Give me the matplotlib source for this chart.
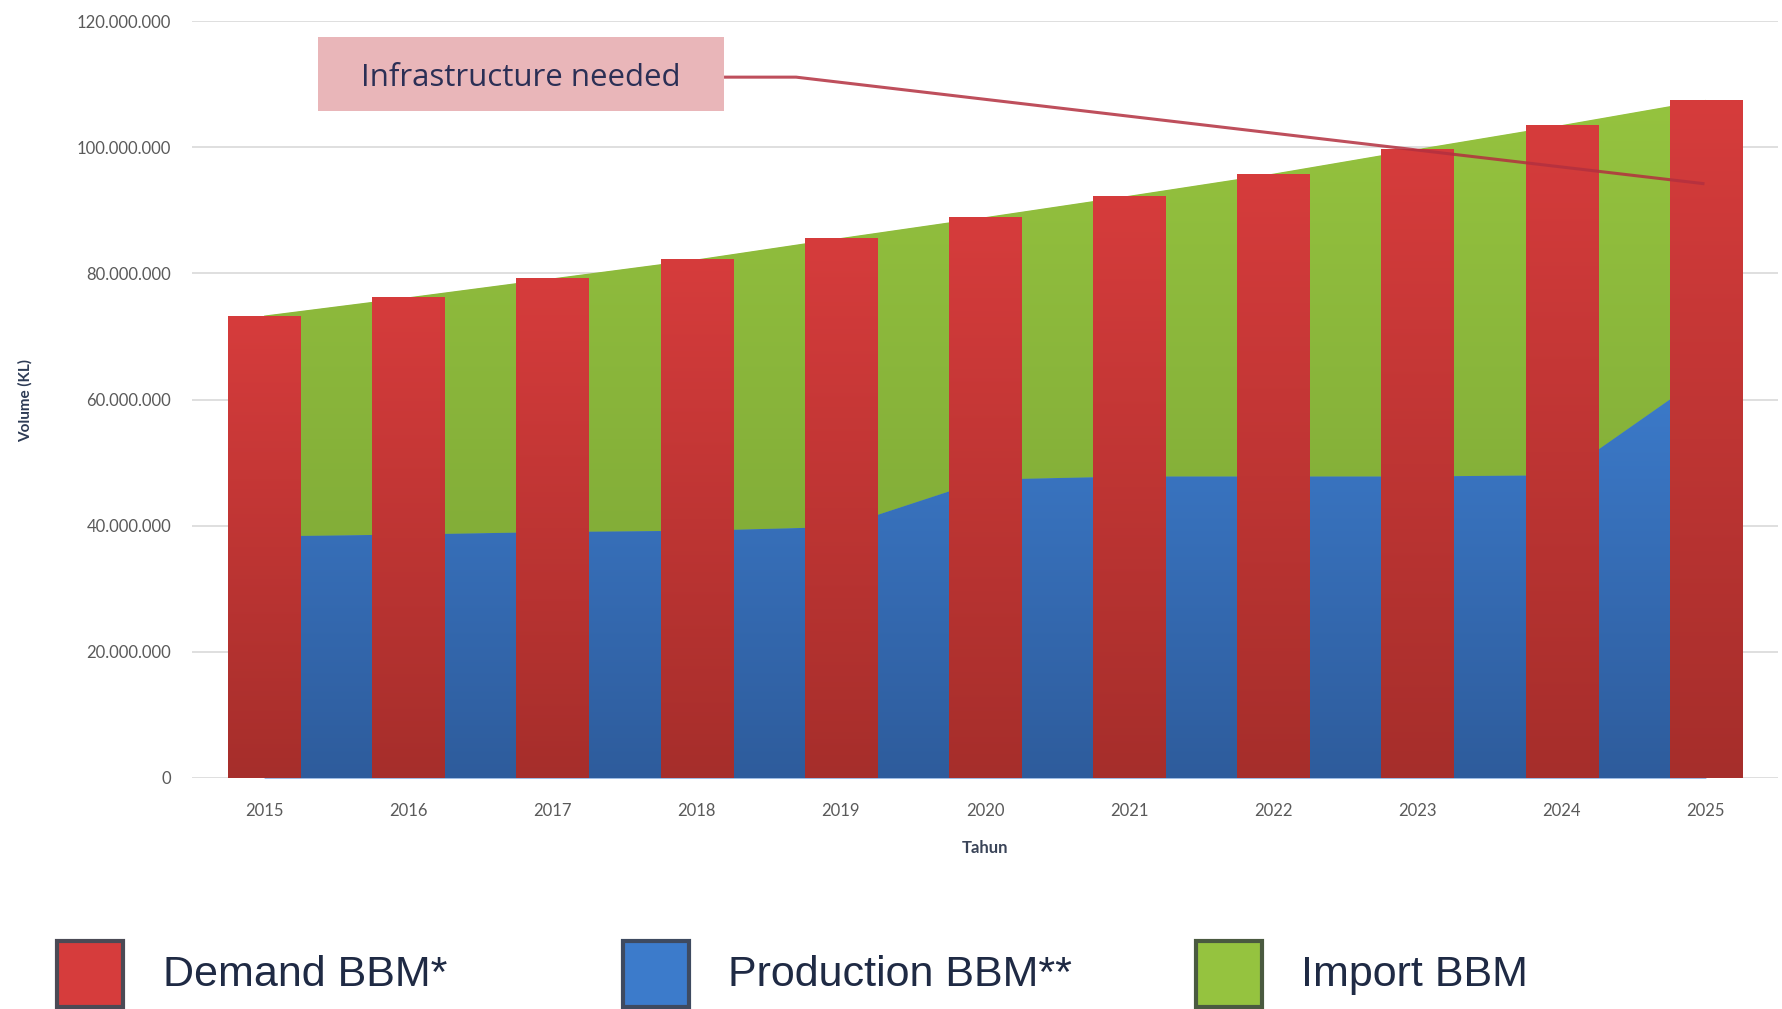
import numpy as np
import matplotlib
matplotlib.use("Agg")
import matplotlib.pyplot as plt
from matplotlib.colors import LinearSegmentedColormap
from matplotlib.patches import Rectangle
from matplotlib.collections import Collection

# ---- data ----
years = ["2015", "2016", "2017", "2018", "2019", "2020", "2021", "2022", "2023", "2024", "2025"]
demand = [73.3, 76.2, 79.2, 82.2, 85.6, 88.9, 92.3, 95.8, 99.7, 103.5, 107.5]   # million KL
production = [38.3, 38.6, 39.0, 39.2, 39.8, 47.3, 47.8, 47.8, 47.8, 48.0, 64.0]  # million KL
yticks = [0, 20, 40, 60, 80, 100, 120]
ytick_labels = ["0", "20.000.000", "40.000.000", "60.000.000", "80.000.000", "100.000.000", "120.000.000"]
legend_labels = ["Demand BBM*", "Production BBM**", "Import BBM"]
annotation_text = "Infrastructure needed"

demand_v = np.array(demand) * 1e6
prod_v = np.array(production) * 1e6
x = np.arange(len(years))

RED_TOP, RED_BOT = "#d63c3c", "#a62e2b"
BLUE_TOP, BLUE_BOT = "#3c7bcb", "#2e5c9c"
GREEN_TOP, GREEN_BOT = "#95c33f", "#79a235"

fig = plt.figure(figsize=(17.82, 10.09), dpi=100)
ax = fig.add_axes([192/1782, 1-778/1009, (1778-192)/1782, (778-21)/1009])
ax.set_xlim(-0.5, len(years) - 0.5)
ax.set_ylim(0, 120e6)

def grad(ax, clip, top, bot, y0, y1, x0, x1, z):
    cmap = LinearSegmentedColormap.from_list("g", [bot, top])
    g = np.linspace(0, 1, 256).reshape(-1, 1)
    im = ax.imshow(g, cmap=cmap, origin="lower", aspect="auto",
                   extent=[x0, x1, y0, y1], zorder=z, interpolation="bicubic")
    if isinstance(clip, Collection):
        im.set_clip_path(clip.get_paths()[0], ax.transData)
    else:
        im.set_clip_path(clip)
    return im

# stacked areas (production + import up to demand)
pc_green = ax.fill_between(x, prod_v, demand_v, color=GREEN_TOP, lw=0, zorder=1)
pc_blue = ax.fill_between(x, 0, prod_v, color=BLUE_TOP, lw=0, zorder=1)
grad(ax, pc_green, GREEN_TOP, GREEN_BOT, 0, demand_v.max(), x[0], x[-1], 1.1)
grad(ax, pc_blue, BLUE_TOP, BLUE_BOT, 0, prod_v.max(), x[0], x[-1], 1.2)

# demand bars
bars = ax.bar(x, demand_v, width=0.5, color=RED_TOP, lw=0, zorder=2)
for b in bars:
    grad(ax, b, RED_TOP, RED_BOT, 0, b.get_height(), b.get_x(), b.get_x() + b.get_width(), 2.1)
ax.set_xlim(-0.5, len(years) - 0.5)
ax.set_ylim(0, 120e6)

# grid / axes styling
ax.set_yticks(np.array(yticks) * 1e6)
ax.set_yticklabels(ytick_labels)
ax.set_xticks(x)
ax.set_xticklabels(years)
ax.yaxis.grid(True, color="#d9d9d9", lw=1.2, zorder=0)
ax.set_axisbelow(True)
for s in ax.spines.values():
    s.set_visible(False)
ax.tick_params(axis="both", length=0, colors="#5a5a5a", labelsize=12)
ax.tick_params(axis="y", pad=15)
ax.tick_params(axis="x", pad=18)
for lab in ax.get_xticklabels() + ax.get_yticklabels():
    lab.set_fontfamily("Lato")
ax.set_xlabel("Tahun", fontsize=12, fontweight="bold", color="#3a4458", family="Lato", labelpad=15)
fig.text(25/1782, 1-400/1009, "Volume (KL)", rotation=90, ha="center", va="center",
         fontsize=11, fontweight="bold", color="#2d3b55", family="Lato")

# annotation
ax.plot([3.19, 3.69, 9.99], [111.1e6, 111.1e6, 94.2e6], color="#b3303f", lw=2.2,
        alpha=0.85, zorder=3, solid_capstyle="butt")
ax.add_patch(Rectangle((0.374, 105.7e6), 3.19 - 0.374, 117.4e6 - 105.7e6,
                       facecolor="#e9b6b9", edgecolor="none", zorder=4, clip_on=False))
ax.text((0.374 + 3.19) / 2, 110.9e6, annotation_text, ha="center", va="center",
        fontsize=22.5, color="#2b2f55", family="Open Sans", zorder=5)

# legend (figure level)
face = [RED_TOP, BLUE_TOP, GREEN_TOP]
edges = ["#4b4a55", "#3e4a60", "#4a5a40"]
sq_x = [57, 623, 1196]
tx_x = [163, 728, 1301]
for lab, f, e, sx, tx in zip(legend_labels, face, edges, sq_x, tx_x):
    fig.patches.append(Rectangle((sx/1782, 1-1007/1009), 66/1782, 66/1009,
                                 transform=fig.transFigure, facecolor=f,
                                 edgecolor=e, lw=3))
    fig.text(tx/1782, 1-975/1009, lab, ha="left", va="center", fontsize=31,
             color="#1f2a44", family="Liberation Sans")

fig.savefig("out.png", dpi=100)
